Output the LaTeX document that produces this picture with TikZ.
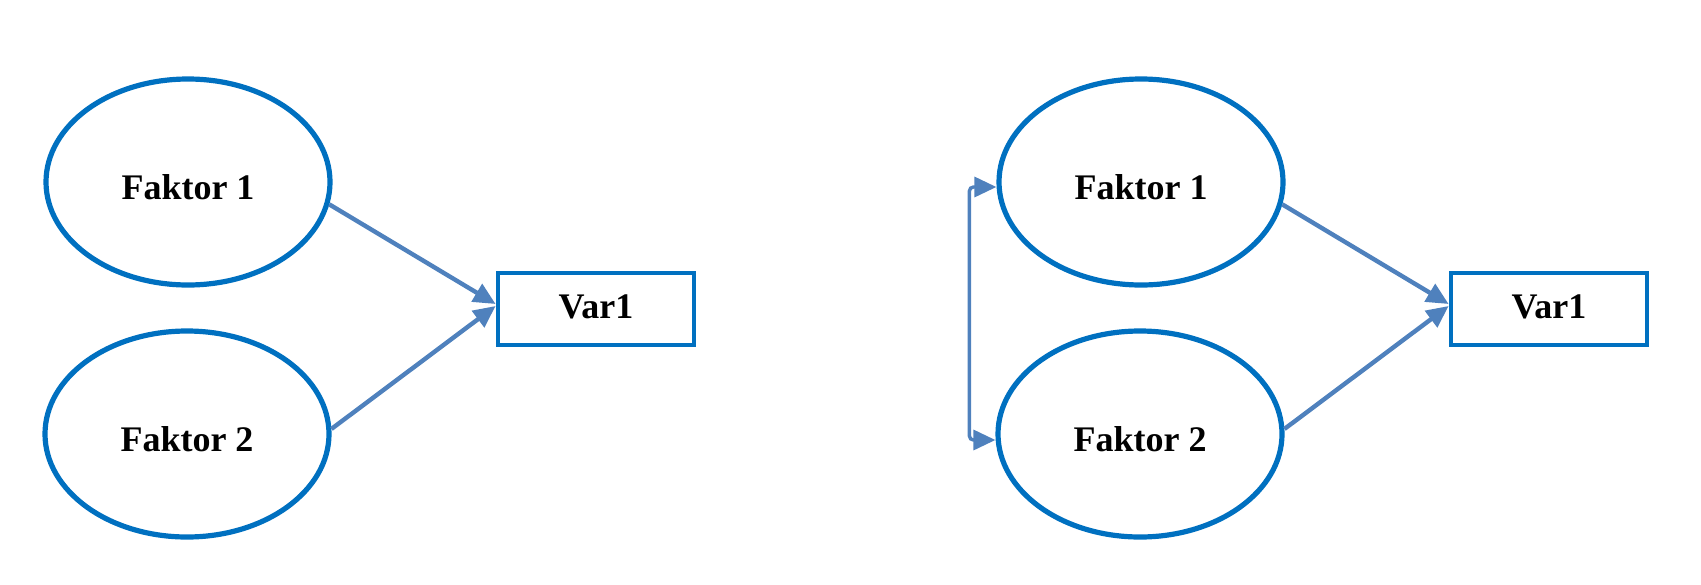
\documentclass[tikz,border=0pt]{standalone}
\usepackage{fontspec}
\setmainfont{Liberation Serif}
\usetikzlibrary{shapes.geometric,arrows.meta}
\definecolor{zblue}{HTML}{0070C0}
\definecolor{zsteel}{HTML}{4F81BD}
\begin{document}
\begin{tikzpicture}[x=.5pt, y=-.5pt, zfac/.style={ellipse, draw=zblue, line width=2.6pt, minimum width=142pt, minimum height=103pt, inner sep=0pt, text height=17pt, text depth=0pt, font=\bfseries\fontsize{18}{20}\selectfont}, zobs/.style={rectangle, draw=zblue, line width=2.4pt, minimum width=98pt, minimum height=36pt, inner sep=0pt, text height=9pt, text depth=0pt, font=\bfseries\fontsize{18}{20}\selectfont}, zarr/.style={draw=zsteel, line width=2.2pt, -{Triangle[length=11pt, width=10pt]}}]
\useasboundingbox (0,0) rectangle (1701,584);
\foreach \s/\x in {l/0, r/953}{
  \node[zfac] (f1\s) at (188+\x,182) {Faktor 1};
  \node[zfac] (f2\s) at (187+\x,434) {Faktor 2};
  \node[zobs] (v\s) at (596+\x,309) {Var1};
  \draw[zarr] (f1\s.-9) -- ([yshift=2.5pt]v\s.west);
  \draw[zarr] (f2\s.2) -- ([yshift=1.5pt]v\s.west);
}
\draw[zarr, line width=1.7pt, {Triangle[length=11pt, width=10pt]}-{Triangle[length=11pt, width=10pt]}, rounded corners=2pt] ([yshift=-2.5pt]f1r.west) -- ++(-27,0) |- ([yshift=-3pt]f2r.west);
\end{tikzpicture}
\end{document}
